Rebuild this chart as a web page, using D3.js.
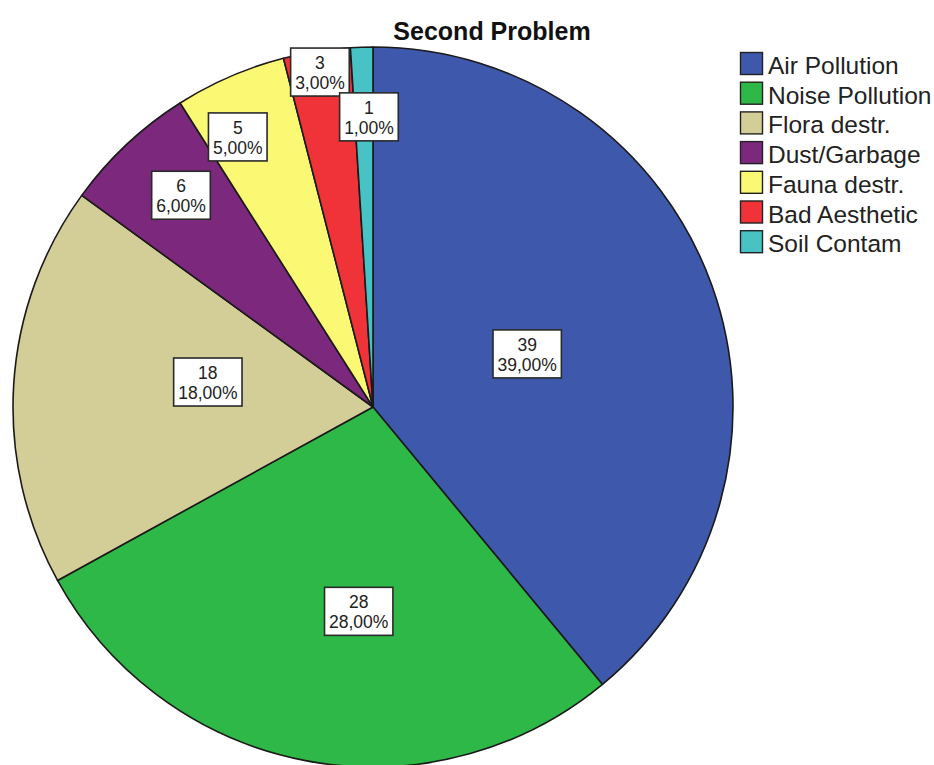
<!DOCTYPE html>
<html>
<head>
<meta charset="utf-8">
<script src="https://cdn.jsdelivr.net/npm/d3@7"></script>
<style>
  html, body { margin: 0; padding: 0; background: #ffffff; }
  svg { display: block; }
  text { font-family: "Liberation Sans", Arial, sans-serif; }
</style>
</head>
<body>
<svg id="chart" width="934" height="765"></svg>
<script>
// ---- Data ----
const categories = ["Air Pollution", "Noise Pollution", "Flora destr.", "Dust/Garbage", "Fauna destr.", "Bad Aesthetic", "Soil Contam"];
const counts = [39, 28, 18, 6, 5, 3, 1];
const percents = ["39,00%", "28,00%", "18,00%", "6,00%", "5,00%", "3,00%", "1,00%"];
const colors = ["#3e58ac", "#2eb848", "#d3ce97", "#7c287d", "#fbf873", "#ef3338", "#48c2c5"];
const title = "Second Problem";

// ---- Layout (not data): label placement per slice ----
const labelRadiusFactor = [0.453, 0.569, 0.464, 0.794, 0.839, 0.942, 0.806];
const labelAngleOffsetDeg = [0.8, -6.8, 5, 1, -3.2, 0, 1];

const svg = d3.select("#chart");
const cx = 373, cy = 407, r = 360;

const pie = d3.pie().sort(null).value(d => d.v);
const arcs = pie(counts.map((v, i) => ({ v, i })));
const arc = d3.arc().innerRadius(0).outerRadius(r);

const g = svg.append("g").attr("transform", `translate(${cx},${cy})`);

g.selectAll("path.slice")
  .data(arcs)
  .enter().append("path")
  .attr("class", "slice")
  .attr("d", arc)
  .attr("fill", d => colors[d.data.i])
  .attr("stroke", "#1a1a1a")
  .attr("stroke-width", 1.6)
  .attr("stroke-linejoin", "round");

// Labels
const labels = g.selectAll("g.lab")
  .data(arcs)
  .enter().append("g")
  .attr("class", "lab")
  .attr("transform", d => {
    const i = d.data.i;
    const a = (d.startAngle + d.endAngle) / 2 + labelAngleOffsetDeg[i] * Math.PI / 180;
    const dist = labelRadiusFactor[i] * r;
    return `translate(${dist * Math.sin(a)},${-dist * Math.cos(a)})`;
  });

labels.each(function(d) {
  const sel = d3.select(this);
  const i = d.data.i;
  const t1 = sel.append("text")
    .attr("text-anchor", "middle")
    .attr("y", -3)
    .attr("font-size", 17.5)
    .attr("fill", "#222")
    .text(counts[i]);
  const t2 = sel.append("text")
    .attr("text-anchor", "middle")
    .attr("y", 17)
    .attr("font-size", 17.5)
    .attr("fill", "#222")
    .text(percents[i]);
  const w = Math.max(t1.node().getComputedTextLength(), t2.node().getComputedTextLength()) + 9;
  sel.insert("rect", "text")
    .attr("x", -w / 2)
    .attr("y", -24)
    .attr("width", w)
    .attr("height", 48)
    .attr("fill", "#ffffff")
    .attr("stroke", "#2a2a2a")
    .attr("stroke-width", 1.6);
});

// Title
svg.append("text")
  .attr("x", 492)
  .attr("y", 40)
  .attr("text-anchor", "middle")
  .attr("font-size", 25)
  .attr("font-weight", "bold")
  .attr("fill", "#111")
  .text(title);

// Legend
const legend = svg.append("g").attr("transform", "translate(740,52)");
const pitch = 29.7;
const items = legend.selectAll("g.item")
  .data(categories)
  .enter().append("g")
  .attr("class", "item")
  .attr("transform", (d, i) => `translate(0,${i * pitch})`);

items.append("rect")
  .attr("x", 0.5)
  .attr("y", 0.5)
  .attr("width", 22)
  .attr("height", 22)
  .attr("fill", (d, i) => colors[i])
  .attr("stroke", "#222")
  .attr("stroke-width", 1.4);

items.append("text")
  .attr("x", 28)
  .attr("y", 22)
  .attr("font-size", 24.5)
  .attr("fill", "#222")
  .text(d => d);
</script>
</body>
</html>
